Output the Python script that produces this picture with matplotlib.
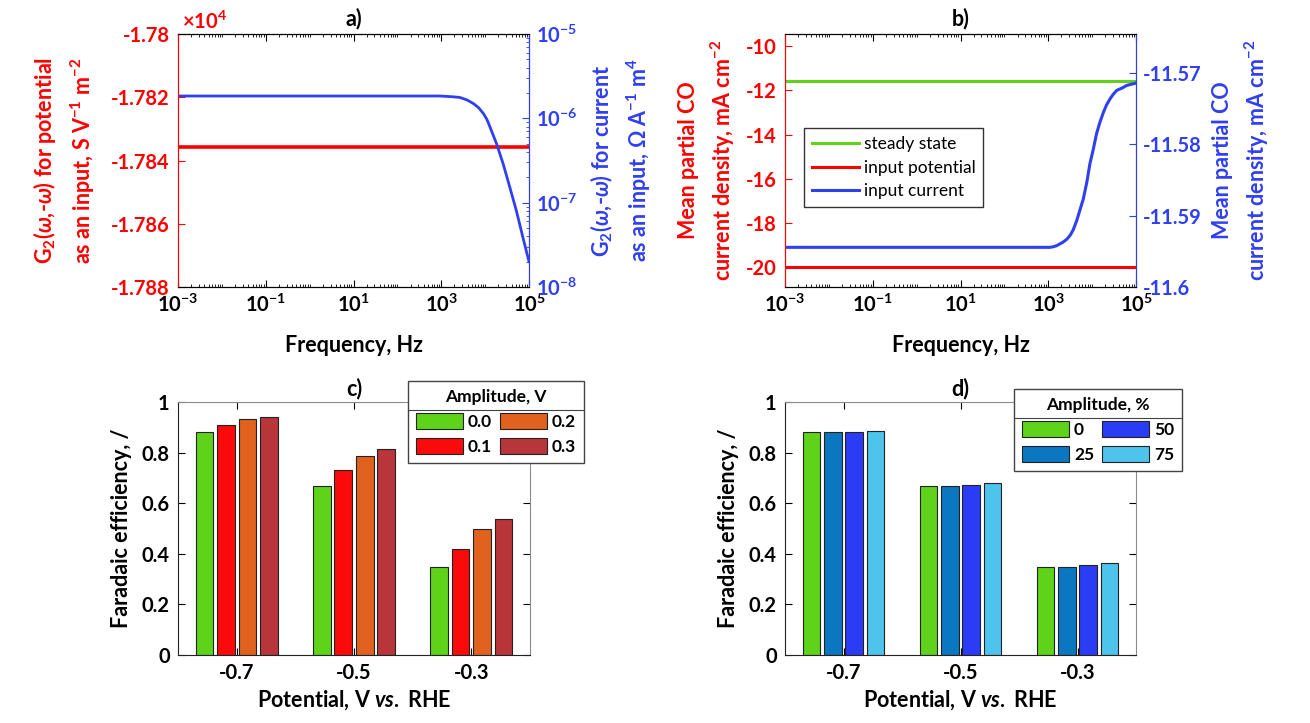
import numpy as np
import matplotlib
matplotlib.use('Agg')
import matplotlib.pyplot as plt
from matplotlib.ticker import FixedLocator, FuncFormatter, LogLocator, NullFormatter
from matplotlib.lines import Line2D

# ---- data ----
# a) G2(w,-w)
freq_a = [1e-3, 9.3e2, 1.32e3, 1.86e3, 2.63e3, 3.80e3, 5.37e3, 7.08e3, 9.12e3, 1.10e4,
          1.29e4, 1.82e4, 2.57e4, 3.63e4, 5.13e4, 7.24e4, 1e5]
g2_current = [1.84e-6, 1.84e-6, 1.82e-6, 1.80e-6, 1.77e-6, 1.66e-6, 1.50e-6, 1.34e-6, 1.14e-6, 9.7e-7,
              7.9e-7, 5.0e-7, 2.9e-7, 1.54e-7, 8.1e-8, 3.9e-8, 2.0e-8]
g2_potential = -17835.8

# b) mean partial CO current density
freq_b = [1e-3, 1.10e3, 1.32e3, 1.55e3, 2.19e3, 2.63e3, 3.16e3, 3.72e3, 4.47e3, 5.25e3, 6.31e3, 7.59e3,
          8.91e3, 1.07e4, 1.26e4, 1.51e4, 1.82e4, 2.14e4, 2.57e4, 3.02e4, 3.63e4, 4.79e4, 6.17e4, 1e5]
j_current = [-11.59445, -11.59445, -11.59436, -11.59422, -11.59371, -11.59333, -11.59277, -11.59198,
             -11.59068, -11.58928, -11.58765, -11.58531, -11.58275, -11.58065, -11.57855, -11.57692,
             -11.57552, -11.57450, -11.57366, -11.57305, -11.57249, -11.57217, -11.57179, -11.57147]
j_steady = -11.57
j_potential = -20.0

# c), d) faradaic efficiency
potentials = [-0.7, -0.5, -0.3]
amp_v = ['0.0', '0.1', '0.2', '0.3']
fe_v = [[0.883, 0.667, 0.346],
        [0.910, 0.730, 0.419],
        [0.933, 0.788, 0.498],
        [0.941, 0.813, 0.536]]
amp_pct = ['0', '25', '50', '75']
fe_pct = [[0.883, 0.667, 0.346],
          [0.883, 0.667, 0.349],
          [0.883, 0.671, 0.356],
          [0.887, 0.678, 0.364]]

RED = '#ff0000'
BLUE = '#2f3ff2'
GREEN = '#5fd21a'
cols_v = [GREEN, '#fa0a0a', '#e0621e', '#b8353a']
cols_pct = [GREEN, '#0a77c0', '#2b3cf5', '#4ec3ec']

plt.rcParams['font.family'] = ['Lato', 'DejaVu Sans']
plt.rcParams['font.weight'] = 'bold'
plt.rcParams['axes.labelweight'] = 'bold'
plt.rcParams['axes.titleweight'] = 'bold'
plt.rcParams['axes.unicode_minus'] = False
plt.rcParams['mathtext.fontset'] = 'custom'
plt.rcParams['mathtext.rm'] = 'Lato:bold'
plt.rcParams['mathtext.bf'] = 'Lato:bold'
plt.rcParams['mathtext.it'] = 'Lato:italic:bold'
plt.rcParams['mathtext.fallback'] = 'stixsans'
plt.rcParams['xtick.direction'] = 'in'
plt.rcParams['ytick.direction'] = 'in'

FS_TICK = 14.5
FS_LAB = 15.5

fig = plt.figure(figsize=(13.1, 7.23), dpi=100)
W, H = 1310, 723


def box(l, t, r, b):
    return [l / W, 1 - b / H, (r - l) / W, (b - t) / H]


def ylab(ax, text, color, x):
    ax.set_ylabel(text, color=color, fontsize=FS_LAB, linespacing=1.45)
    ax.yaxis.set_label_coords(x, 0.5)
    ax.yaxis.label.set_va('center')


def log_x(ax):
    ax.set_xscale('log')
    ax.set_xlim(1e-3, 1e5)
    ax.xaxis.set_major_locator(FixedLocator([1e-3, 1e-1, 1e1, 1e3, 1e5]))
    ax.xaxis.set_minor_locator(LogLocator(base=10, subs=np.arange(1, 10), numticks=50))
    ax.xaxis.set_minor_formatter(NullFormatter())
    ax.tick_params(axis='x', which='both', top=True, labelsize=FS_TICK, pad=5)
    ax.tick_params(axis='x', which='major', length=5)
    ax.tick_params(axis='x', which='minor', length=2.5)
    ax.set_xlabel('Frequency, Hz', fontsize=FS_LAB)
    ax.xaxis.set_label_coords(0.5, -0.23)
    ax.xaxis.label.set_va('center')


# ---- a) ----
ax_a = fig.add_axes(box(178, 34, 529, 287))
ax_a.plot([freq_a[0], freq_a[-1]], [g2_potential, g2_potential], color=RED, lw=2.6)
log_x(ax_a)
ax_a.set_ylim(-17880, -17800)
ax_a.yaxis.set_major_locator(FixedLocator(np.arange(-17880, -17799, 20)))
ax_a.yaxis.set_major_formatter(FuncFormatter(lambda v, p: f'{v / 1e4:g}'))
ax_a.tick_params(axis='y', colors=RED, labelsize=FS_TICK, length=5, pad=6)
ax_a.spines['left'].set_color(RED)
ylab(ax_a, '$\\mathrm{G}_2(\\omega$,-$\\omega)$ for potential\nas an input, S V$^{-1}$ m$^{-2}$', RED, -0.325)
ax_a.text(0.01, 1.005, '$\\times$10$^4$', color=RED, transform=ax_a.transAxes,
          fontsize=FS_TICK, va='bottom', ha='left')
ax_a.set_title('a)', fontsize=FS_LAB, pad=6)

ax_a2 = ax_a.twinx()
ax_a2.plot(freq_a, g2_current, color=BLUE, lw=2)
ax_a2.set_yscale('log')
ax_a2.set_ylim(1e-8, 1e-5)
ax_a2.yaxis.set_minor_formatter(NullFormatter())
ax_a2.tick_params(axis='y', which='both', colors=BLUE, labelsize=FS_TICK, pad=5)
ax_a2.tick_params(axis='y', which='major', length=5)
ax_a2.tick_params(axis='y', which='minor', length=2.5)
ax_a2.spines['right'].set_color(BLUE)
ax_a2.spines['left'].set_color(RED)
ylab(ax_a2, '$\\mathrm{G}_2(\\omega$,-$\\omega)$ for current\nas an input, $\\Omega$ A$^{-1}$ m$^4$', BLUE, 1.262)

# ---- b) ----
ax_b = fig.add_axes(box(785, 34, 1136, 287))
h1, = ax_b.plot([freq_b[0], freq_b[-1]], [j_steady, j_steady], color=GREEN, lw=2.2, label='steady state')
h2, = ax_b.plot([freq_b[0], freq_b[-1]], [j_potential, j_potential], color=RED, lw=2.2, label='input potential')
log_x(ax_b)
ax_b.set_ylim(-20.91, -9.44)
ax_b.yaxis.set_major_locator(FixedLocator(np.arange(-20, -9, 2)))
ax_b.tick_params(axis='y', colors=RED, labelsize=FS_TICK, length=5, pad=6)
ax_b.spines['left'].set_color(RED)
ylab(ax_b, 'Mean partial CO\ncurrent density, mA cm$^{-2}$', RED, -0.22)
ax_b.set_title('b)', fontsize=FS_LAB, pad=6)

ax_b2 = ax_b.twinx()
h3, = ax_b2.plot(freq_b, j_current, color=BLUE, lw=2.2, label='input current')
ax_b2.set_ylim(-11.6, -11.5646)
ax_b2.yaxis.set_major_locator(FixedLocator([-11.6, -11.59, -11.58, -11.57]))
ax_b2.yaxis.set_major_formatter(FuncFormatter(lambda v, p: f'{v:g}'))
ax_b2.tick_params(axis='y', colors=BLUE, labelsize=FS_TICK, length=5, pad=5)
ax_b2.spines['right'].set_color(BLUE)
ax_b2.spines['left'].set_color(RED)
ylab(ax_b2, 'Mean partial CO\ncurrent density, mA cm$^{-2}$', BLUE, 1.30)
ax_b2.legend(handles=[h1, h2, h3], loc='upper left', bbox_to_anchor=(804 / W, 1 - 128 / H),
             bbox_transform=fig.transFigure, borderaxespad=0, fancybox=False, framealpha=1,
             edgecolor='#333333', prop={'weight': 'normal', 'size': 12.5}, handlelength=2.7,
             handletextpad=0.3, labelspacing=0.45, borderpad=0.45)


# ---- c), d) ----
def bars(ax, vals, labels, colors, title, legend_title, leg_pos):
    x = np.array(potentials)
    offs = (np.arange(4) - 1.5) * 0.0365
    hs = []
    for i in range(4):
        hs.append(ax.bar(x + offs[i], vals[i], width=0.030, color=colors[i],
                         edgecolor='#222222', linewidth=0.8, label=labels[i]))
    ax.set_xlim(-0.8, -0.2)
    ax.set_ylim(0, 1)
    ax.set_xticks(potentials)
    ax.set_xticklabels([f'{p:g}' for p in potentials])
    ax.set_yticks([0, 0.2, 0.4, 0.6, 0.8, 1])
    ax.yaxis.set_major_formatter(FuncFormatter(lambda v, p: f'{v:g}'))
    ax.tick_params(which='both', top=True, right=True, labelsize=FS_TICK, length=5, pad=6)
    for s in ['top', 'right']:
        ax.spines[s].set_color('#8c8c8c')
    for s in ['left', 'bottom']:
        ax.spines[s].set_color('#222222')
    ylab(ax, 'Faradaic efficiency, /', 'black', -0.16)
    ax.set_xlabel('Potential, V $\\mathit{vs.}$ RHE', fontsize=FS_LAB)
    ax.xaxis.set_label_coords(0.5, -0.178)
    ax.xaxis.label.set_va('center')
    ax.set_title(title, fontsize=FS_LAB, pad=5)
    leg = ax.legend(handles=hs, ncol=2, title=legend_title, loc='upper left',
                    bbox_to_anchor=leg_pos, bbox_transform=fig.transFigure, borderaxespad=0,
                    fancybox=False, framealpha=1, edgecolor='#444444',
                    prop={'weight': 'bold', 'size': 12.5},
                    title_fontproperties={'weight': 'bold', 'size': 12.5},
                    handlelength=2.7, handleheight=1.1, handletextpad=0.3, columnspacing=0.45,
                    labelspacing=0.45, borderpad=0.45)
    return leg


ax_c = fig.add_axes(box(178, 402, 530, 655))
leg_c = bars(ax_c, fe_v, amp_v, cols_v, 'c)', 'Amplitude, V', (408 / W, 1 - 381 / H))
ax_d = fig.add_axes(box(785, 402, 1136, 655))
leg_d = bars(ax_d, fe_pct, amp_pct, cols_pct, 'd)', 'Amplitude, %', (1014 / W, 1 - 389 / H))

# separator line under the legend titles
fig.canvas.draw()
inv = fig.transFigure.inverted()
for leg in [leg_c, leg_d]:
    lb = leg.get_window_extent()
    tb = leg.get_title().get_window_extent()
    y = tb.y0 - 5
    (x0, y0), (x1, _) = inv.transform([(lb.x0, y), (lb.x1, y)])
    fig.add_artist(Line2D([x0, x1], [y0, y0], transform=fig.transFigure, color='#444444', lw=0.8))

fig.savefig('out.png', dpi=100)
